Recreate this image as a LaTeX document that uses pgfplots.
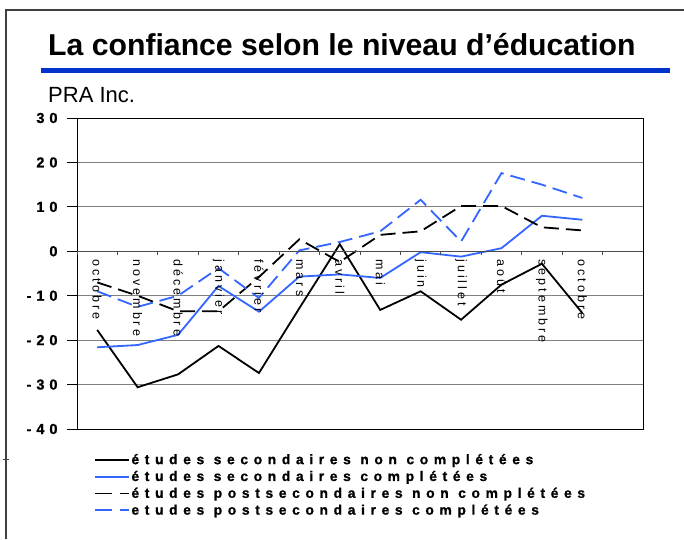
\documentclass[border=0pt]{standalone}
\usepackage{pgfplots}
\pgfplotsset{compat=1.18}
\usepackage{fontspec}
\setmainfont{Liberation Sans}
\definecolor{titleblue}{RGB}{0,51,204}
\definecolor{serblue}{RGB}{51,102,255}

\pgfplotstableread{
x s1 s2 s3 s4
0 -17.7 -21.6 -7.0 -9.0
1 -30.6 -21.1 -10.0 -12.5
2 -27.7 -18.8 -13.5 -10.0
3 -21.3 -7.8 -13.5 -3.8
4 -27.4 -13.6 -5.8 -10.5
5 -12.8 -5.7 2.7 0.2
6 1.6 -5.2 -2.4 2.1
7 -13.2 -6.0 3.7 4.5
8 -9.0 -0.2 4.5 11.6
9 -15.4 -1.2 10.2 2.2
10 -7.5 0.7 10.2 17.6
11 -2.8 8.0 5.4 15.0
12 -13.9 7.1 4.7 12.0
}\datatable

\begin{document}
\begin{tikzpicture}
\useasboundingbox (0pt,0pt) rectangle (684pt,-539pt);
\fill[white] (0pt,0pt) rectangle (684pt,-539pt);
\draw[line width=1.2pt, black!75] (6pt,-539pt) -- (6pt,-10pt) -- (684pt,-10pt);
\draw[line width=1pt, black!75] (3pt,-459pt) -- (9pt,-459pt);
\node[anchor=base west, inner sep=0pt, font=\fontsize{30.2}{36}\selectfont\bfseries] at (48pt,-55pt) {La confiance selon le niveau d’éducation};
\fill[titleblue] (41pt,-68pt) rectangle (670pt,-73pt);
\node[anchor=base west, inner sep=0pt, font=\fontsize{22}{26}\selectfont] at (48pt,-102pt) {PRA Inc.};

\begin{axis}[
  at={(77pt,-429pt)}, anchor=south west, scale only axis,
  width=566pt, height=311pt,
  xmin=-0.5, xmax=13.5, ymin=-40, ymax=30,
  xtick=\empty,
  ytick={-40,-30,-20,-10,0,10,20,30},
  yticklabels={-40,-30,-20,-10,0,10,20,30},
  ytick pos=left,
  ymajorgrids,
  major grid style={line width=1pt, black!50},
  tick align=outside, major tick length=10pt,
  tick style={black, line width=0.8pt},
  axis line style={line width=1pt, black},
  yticklabel style={font=\fontsize{14.5}{16}\selectfont\bfseries\addfontfeature{LetterSpace=34,FakeBold=1}, xshift=-6pt},
  legend image code/.code={\draw[#1] (0pt,0pt) -- (34pt,0pt);},
  legend style={at={(axis description cs:0.03,-0.075)}, anchor=north west,
    draw=none, fill=none, inner sep=0pt, row sep=2.2pt,
    nodes={inner sep=1.5pt},
    font=\fontsize{13.8}{15}\selectfont\bfseries\addfontfeature{LetterSpace=41,FakeBold=1}},
  legend cell align=left,
]
\addplot[black, line width=1.8pt] table[x=x, y=s1] {\datatable};
\addlegendentry{études secondaires non complétées}
\addplot[serblue, line width=1.8pt] table[x=x, y=s2] {\datatable};
\addlegendentry{études secondaires complétées}
\addplot[black, line width=1.8pt, dash pattern=on 15pt off 7pt,
  legend image post style={dash pattern=on 17pt off 8pt on 9pt off 50pt}] table[x=x, y=s3] {\datatable};
\addlegendentry{études postsecondaires non complétées}
\addplot[serblue, line width=1.8pt, dash pattern=on 15pt off 7pt,
  legend image post style={dash pattern=on 17pt off 8pt on 9pt off 50pt}] table[x=x, y=s4] {\datatable};
\addlegendentry{etudes postsecondaires complétées}
\end{axis}

\begin{axis}[
  at={(77pt,-429pt)}, anchor=south west, scale only axis,
  width=566pt, height=311pt,
  xmin=-0.5, xmax=13.5, ymin=-40, ymax=30,
  axis x line*=middle, axis y line=none,
  xtick={-0.5,0.5,1.5,2.5,3.5,4.5,5.5,6.5,7.5,8.5,9.5,10.5,11.5,12.5},
  x tick label as interval,
  xticklabels={octobre,novembre,décembre,janvier,février,mars,avril,mai,juin,juillet,août,septembre,octobre},
  ytick=\empty,
  tick align=outside, major tick length=4pt,
  tick style={black!70, line width=0.8pt},
  axis line style={line width=1pt, black!70},
  xticklabel style={rotate=-90, anchor=west, font=\fontsize{12.5}{14}\selectfont\addfontfeature{LetterSpace=24}, inner sep=4pt},
]
\end{axis}
\end{tikzpicture}
\end{document}
